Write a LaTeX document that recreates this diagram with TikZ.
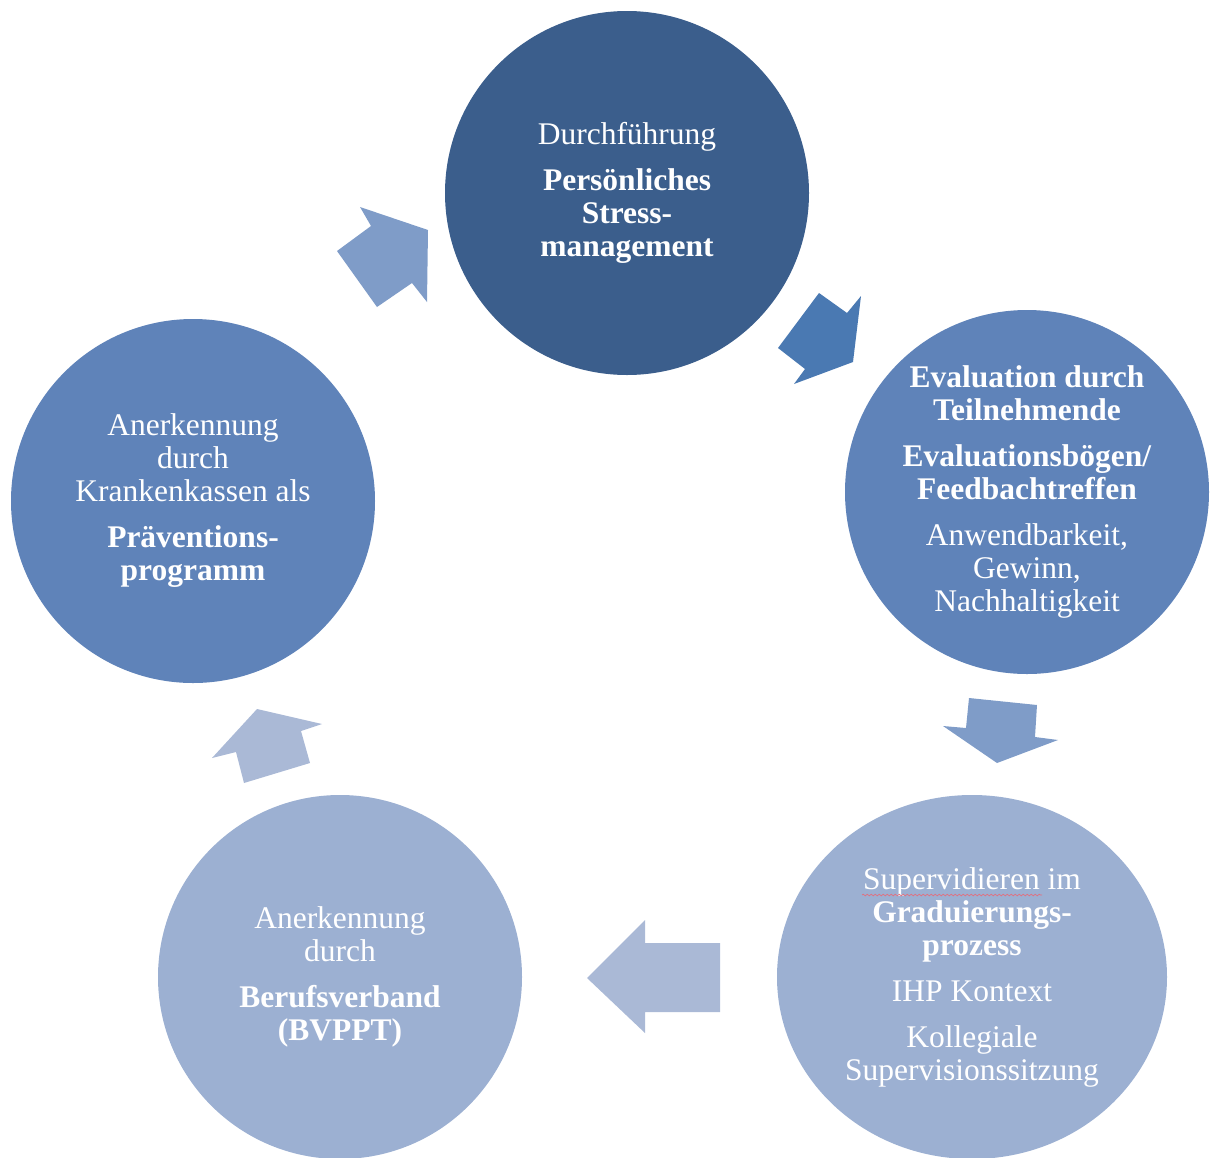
\documentclass[tikz,border=0pt]{standalone}
\usepackage{fontspec}
\setmainfont{Liberation Serif}
\usetikzlibrary{shapes.geometric,decorations.pathmorphing}

\definecolor{topblue}{HTML}{3B5E8C}
\definecolor{midblue}{HTML}{5F83B9}
\definecolor{paleblue}{HTML}{9CB0D2}
\definecolor{arrowmid}{HTML}{7F9CC8}
\definecolor{arrowdark}{HTML}{4A79B2}
\definecolor{arrowpale}{HTML}{AAB9D6}
\definecolor{spellred}{HTML}{E07080}

\tikzset{
  stage/.style={circle, minimum size=364pt, inner sep=0pt, text=white,
    align=center, font=\fontsize{31.5}{33}\selectfont},
  wide stage/.style={stage, ellipse, minimum width=390pt, minimum height=364pt},
  blockarrow/.style={draw=none},
  squiggle/.style={spellred, line width=0.7pt,
    decorate, decoration={snake, amplitude=0.8pt, segment length=4pt}},
}
% bold line inside a stage label
\newcommand{\bl}[1]{\textbf{#1}}

\begin{document}
\begin{tikzpicture}[x=1pt, y=-1pt]
  \useasboundingbox (0,0) rectangle (1218,1157);

  % the five stages of the cycle
  \node[stage, fill=topblue] (durch) at (627,193)
    {Durchführung\\[13pt]\bl{Persönliches}\\\bl{Stress-}\\\bl{management}};
  \node[stage, fill=midblue] (eval) at (1027,492)
    {\bl{Evaluation durch}\\\bl{Teilnehmende}\\[13pt]\bl{Evaluationsbögen/}\\\bl{Feedbachtreffen}\\[13pt]Anwendbarkeit,\\Gewinn,\\Nachhaltigkeit};
  \node[wide stage, fill=paleblue] (superv) at (972,977)
    {Supervidieren im\\\bl{Graduierungs-}\\\bl{prozess}\\[13pt]IHP Kontext\\[13pt]Kollegiale\\Supervisionssitzung};
  \node[stage, fill=paleblue] (verband) at (340,977)
    {Anerkennung\\durch\\[13pt]\bl{Berufsverband}\\\bl{(BVPPT)}};
  \node[stage, fill=midblue] (kassen) at (193,501)
    {Anerkennung\\durch\\Krankenkassen als\\[13pt]\bl{Präventions-}\\\bl{programm}};

  % spell-check underline below "Supervidieren"
  \coordinate (sqA) at (862,895);
  \coordinate (sqB) at (1042,895);
  \draw[squiggle] (sqA) -- (sqB);

  % block arrows between the stages
  \fill[arrowmid, blockarrow] (360,207) -- (428,230) -- (427,302) -- (412,283)
    -- (377,307) -- (337,251) -- (371,226) -- cycle;
  \fill[arrowdark, blockarrow] (819,293) -- (847,313) -- (861,296) -- (853,362)
    -- (794,384) -- (805,369) -- (778,348) -- cycle;
  \fill[arrowmid, blockarrow] (969,698) -- (1037,705) -- (1035,737) -- (1058,740)
    -- (997,763) -- (943,726) -- (966,728) -- cycle;
  \fill[arrowpale, blockarrow] (645,920) -- (645,943) -- (720,943) -- (720,1012)
    -- (645,1012) -- (645,1033) -- (587,978) -- cycle;
  \fill[arrowpale, blockarrow] (257,709) -- (322,724) -- (301,731) -- (310,763)
    -- (244,783) -- (236,752) -- (212,758) -- cycle;
\end{tikzpicture}
\end{document}
